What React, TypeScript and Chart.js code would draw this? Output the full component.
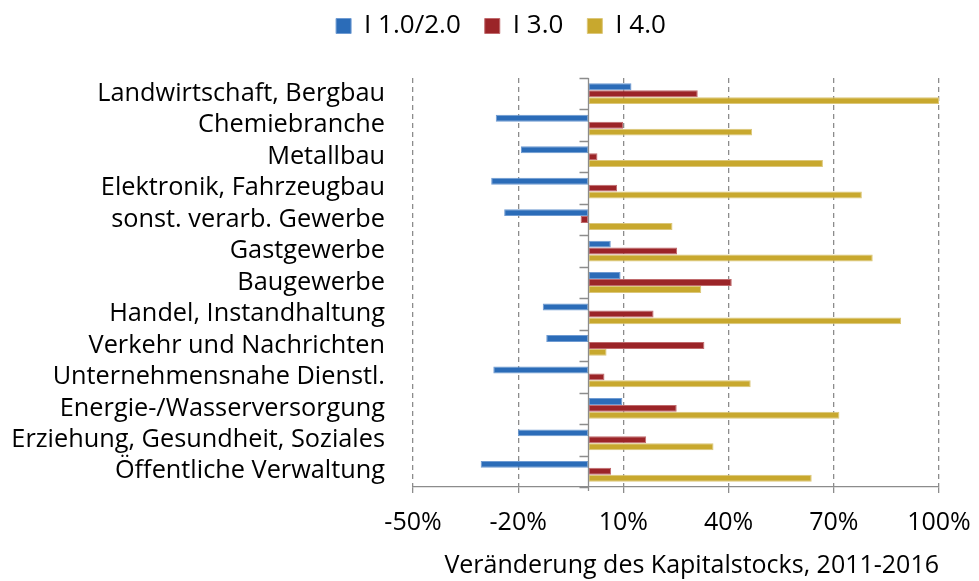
import React, { useEffect, useRef } from "react";
import { Chart, registerables } from "chart.js";

Chart.register(...registerables);

const categories = [
  "Landwirtschaft, Bergbau",
  "Chemiebranche",
  "Metallbau",
  "Elektronik, Fahrzeugbau",
  "sonst. verarb. Gewerbe",
  "Gastgewerbe",
  "Baugewerbe",
  "Handel, Instandhaltung",
  "Verkehr und Nachrichten",
  "Unternehmensnahe Dienstl.",
  "Energie-/Wasserversorgung",
  "Erziehung, Gesundheit, Soziales",
  "Öffentliche Verwaltung",
];

const seriesNames = ["I 1.0/2.0", "I 3.0", "I 4.0"];

const i12 = [12.3, -26.4, -19.2, -27.7, -24.0, 6.4, 9.2, -13.0, -12.0, -27.1, 9.7, -20.1, -30.7];
const i3 = [31.2, 9.9, 2.6, 8.2, -2.2, 25.3, 40.9, 18.6, 33.1, 4.6, 25.2, 16.5, 6.5];
const i4 = [100, 46.7, 66.9, 78.0, 24.0, 81.1, 32.2, 89.2, 5.2, 46.3, 71.6, 35.7, 63.7];

const xTicks = [-50, -20, 10, 40, 70, 100];
const axisTitle = "Veränderung des Kapitalstocks, 2011-2016";

const colors = ["#2B6CB8", "#9B2428", "#C8A82E"];
const borders = ["#6F9BD2", "#C06A6D", "#DCC77A"];

const FONT = "Open Sans";
const PAD_L = 2;
const PAD_R = 40;
const PLOT_LEFT = 413;

const legendSpacing = {
  id: "legendSpacing",
  beforeInit(chart: any) {
    const legend = chart.legend;
    if (!legend) return;
    const orig = legend.fit;
    legend.fit = function () {
      orig.call(this);
      this.height += 29;
    };
  },
  afterLayout(chart: any) {
    const legend = chart.legend;
    if (!legend) return;
    legend.left = 63;
    legend.right = 979 - PAD_R;
  },
};

const zeroAxisPlugin = {
  id: "zeroAxis",
  afterDatasetsDraw(chart: any) {
    const { ctx, chartArea, scales } = chart;
    const x0 = Math.round(scales.x.getPixelForValue(0)) + 0.5;
    const n = categories.length;
    const h = (chartArea.bottom - chartArea.top) / n;
    ctx.save();
    ctx.strokeStyle = "#8C8C8C";
    ctx.lineWidth = 1.3;
    ctx.beginPath();
    ctx.moveTo(x0, chartArea.top);
    ctx.lineTo(x0, chartArea.bottom + 4);
    for (let i = 0; i <= n; i++) {
      const y = Math.round(chartArea.top + i * h) + 0.5;
      ctx.moveTo(x0 - 9, y);
      ctx.lineTo(x0, y);
    }
    ctx.stroke();
    ctx.restore();
  },
};

export default function App() {
  const ref = useRef<HTMLCanvasElement>(null);
  useEffect(() => {
    if (!ref.current) return;
    const data = [i12, i3, i4];
    const chart = new Chart(ref.current, {
      type: "bar",
      data: {
        labels: categories,
        datasets: seriesNames.map((name, k) => ({
          label: name,
          data: data[k],
          backgroundColor: colors[k],
          borderColor: borders[k],
          borderWidth: 1,
          borderSkipped: false,
          barPercentage: 1,
          categoryPercentage: 0.66,
        })),
      },
      options: {
        indexAxis: "y",
        animation: false,
        responsive: false,
        layout: { padding: { left: PAD_L, right: PAD_R, top: -11, bottom: 0 } },
        plugins: {
          legend: {
            position: "top",
            labels: {
              font: { family: FONT, size: 26 },
              color: "#000",
              boxWidth: 15,
              boxHeight: 15,
              padding: 24,
            },
          },
          tooltip: { enabled: false },
        },
        scales: {
          x: {
            type: "linear",
            min: -50,
            max: 100,
            afterBuildTicks: (scale: any) => {
              scale.ticks = xTicks.map((v) => ({ value: v }));
            },
            afterFit: (scale: any) => {
              scale.paddingRight = 0;
              scale.paddingLeft = 0;
            },
            ticks: {
              callback: (v: any) => v + "%",
              font: { family: FONT, size: 25 },
              color: "#000",
              padding: 15,
            },
            grid: {
              color: "#8C8C8C",
              lineWidth: 1.3,
              tickBorderDash: [],
              tickLength: 6,
              tickColor: "#8C8C8C",
            },
            border: { display: true, color: "#8C8C8C", width: 1.3, dash: [5, 4] },
            title: {
              display: true,
              text: axisTitle,
              align: "end",
              font: { family: FONT, size: 25 },
              color: "#000",
              padding: { top: -2, bottom: 0 },
            },
          },
          y: {
            type: "category",
            afterFit: (scale: any) => {
              scale.width = PLOT_LEFT - PAD_L;
            },
            ticks: {
              font: { family: FONT, size: 25.3 },
              color: "#000",
              padding: 28,
              autoSkip: false,
            },
            grid: { display: false, drawTicks: false },
            border: { display: false },
          },
        },
      },
      plugins: [legendSpacing, zeroAxisPlugin],
    } as any);
    return () => chart.destroy();
  }, []);
  return (
    <div style={{ position: "fixed", left: 0, top: 0, width: 979, height: 581, background: "#fff" }}>
      <canvas ref={ref} width={979} height={581} style={{ width: 979, height: 581 }} />
    </div>
  );
}
